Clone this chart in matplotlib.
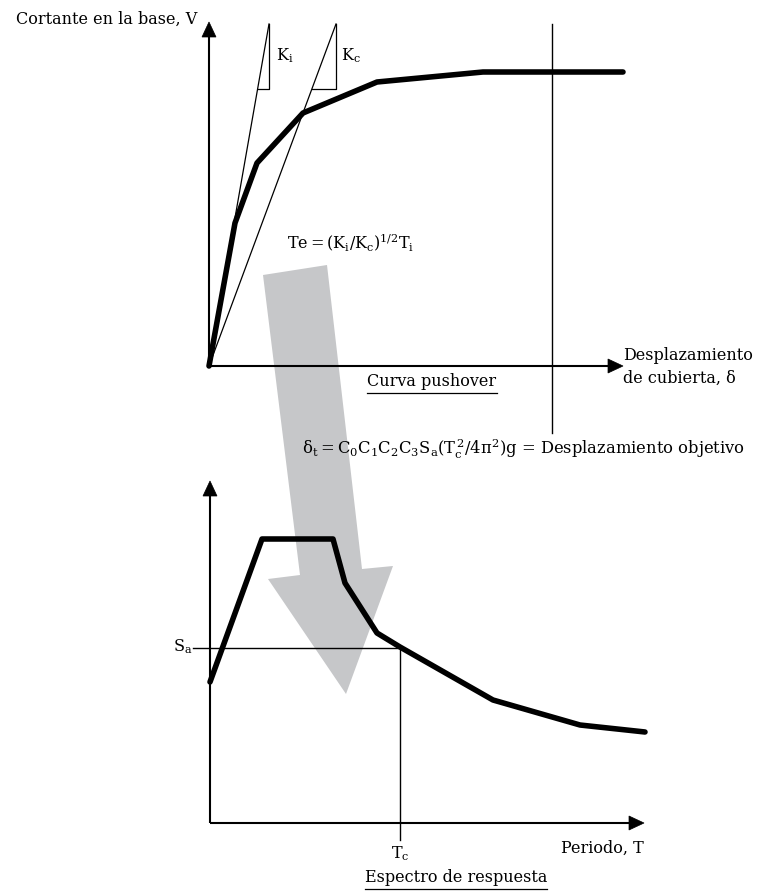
import numpy as np
import matplotlib
matplotlib.use("Agg")
import matplotlib.pyplot as plt
from matplotlib.patches import Polygon

plt.rcParams['font.family'] = ['DejaVu Serif']
plt.rcParams['mathtext.fontset'] = 'dejavuserif'
plt.rcParams['mathtext.default'] = 'regular'

# everything is laid out in image pixels (y grows downwards)
W, H = 762, 893

# pushover curve (base shear vs roof displacement)
pushover_x = [209, 235, 257, 303, 377, 483, 623]
pushover_y = [366, 223, 163, 113, 82, 72, 72]
push_origin = (209, 366)
ki_top = (269, 24)      # initial stiffness secant
kc_top = (336, 24)      # effective stiffness secant
tri_y = 89              # bottom of the slope triangles
target_x = 552          # target displacement line

# response spectrum
spec_x = [210, 262, 333, 345, 377, 400, 493, 580, 645]
spec_y = [682, 539, 539, 583, 633, 647, 700, 725, 732]
spec_origin = (210, 823)
sa_y = 648
tc_x = 400

# big gray arrow from the pushover to the spectrum
big_arrow = [(263, 275), (327, 265), (362, 569), (393, 566),
             (346, 694), (268, 579), (300, 575)]

FS = 11.5

fig = plt.figure(figsize=(W / 100, H / 100), dpi=100)
ax = fig.add_axes([0, 0, 1, 1])
ax.set_xlim(0, W)
ax.set_ylim(H, 0)
ax.axis('off')

ax.add_patch(Polygon(big_arrow, closed=True, facecolor='#c6c7c9',
                     edgecolor='none', zorder=1))


def axis_arrow(x0, y0, x1, y1, hl=15, hw=7):
    d = np.array([x1 - x0, y1 - y0], float)
    d /= np.hypot(*d)
    n = np.array([-d[1], d[0]])
    tip = np.array([x1, y1])
    base = tip - d * hl
    ax.plot([x0, base[0]], [y0, base[1]], color='black', lw=1.5,
            solid_capstyle='butt', zorder=3)
    ax.add_patch(Polygon([tip, base + n * hw, base - n * hw], closed=True,
                         facecolor='black', edgecolor='black', lw=0.5, zorder=3))


def underline(t, pad=2):
    fig.canvas.draw()
    bb = t.get_window_extent().transformed(ax.transData.inverted())
    y = max(bb.y0, bb.y1) + pad
    ax.plot([bb.x0, bb.x1], [y, y], color='black', lw=0.9, zorder=3)


# ---- pushover panel
axis_arrow(push_origin[0], push_origin[1], push_origin[0], 22)
axis_arrow(push_origin[0], push_origin[1], 623, push_origin[1])

for top in (ki_top, kc_top):
    ax.plot([push_origin[0], top[0]], [push_origin[1], top[1]],
            color='black', lw=0.9, zorder=2)
    xb = push_origin[0] + (push_origin[1] - tri_y) / (push_origin[1] - top[1]) * (top[0] - push_origin[0])
    ax.plot([xb, top[0], top[0]], [tri_y, tri_y, top[1]],
            color='black', lw=0.9, zorder=2)

ax.plot([target_x, target_x], [24, 433], color='black', lw=1.0, zorder=2)
ax.plot(pushover_x, pushover_y, color='black', lw=4, solid_joinstyle='round',
        solid_capstyle='round', zorder=4)

ax.text(197, 19, 'Cortante en la base, V', ha='right', va='center', fontsize=FS)
ax.text(276, 56, '$K_i$', ha='left', va='center', fontsize=FS)
ax.text(341, 56, '$K_c$', ha='left', va='center', fontsize=FS)
ax.text(287, 242, '$Te = (K_i/K_c)^{1/2}T_i$', ha='left', va='center', fontsize=FS)
ax.text(623, 355, 'Desplazamiento', ha='left', va='center', fontsize=FS)
ax.text(623, 378, 'de cubierta, δ', ha='left', va='center', fontsize=FS)
t1 = ax.text(432, 382, 'Curva pushover', ha='center', va='center', fontsize=FS)
underline(t1)
ax.text(302, 449, r'$\delta_t = C_0C_1C_2C_3S_a(T_c^{\,2}/4\pi^2)g$ = Desplazamiento objetivo',
        ha='left', va='center', fontsize=11.8, zorder=5)

# ---- spectrum panel
axis_arrow(spec_origin[0], spec_origin[1], spec_origin[0], 481)
axis_arrow(spec_origin[0], spec_origin[1], 644, spec_origin[1])
ax.plot([193, tc_x], [sa_y, sa_y], color='black', lw=1.0, zorder=2)
ax.plot([tc_x, tc_x], [sa_y, 840], color='black', lw=1.0, zorder=2)
ax.plot(spec_x, spec_y, color='black', lw=4, solid_joinstyle='round',
        solid_capstyle='round', zorder=4)

ax.text(192, 647, '$S_a$', ha='right', va='center', fontsize=FS)
ax.text(400, 854, '$T_c$', ha='center', va='center', fontsize=FS)
ax.text(644, 848, 'Periodo, T', ha='right', va='center', fontsize=FS)
t2 = ax.text(456, 878, 'Espectro de respuesta', ha='center', va='center', fontsize=FS)
underline(t2)

fig.savefig('out.png', dpi=100)
